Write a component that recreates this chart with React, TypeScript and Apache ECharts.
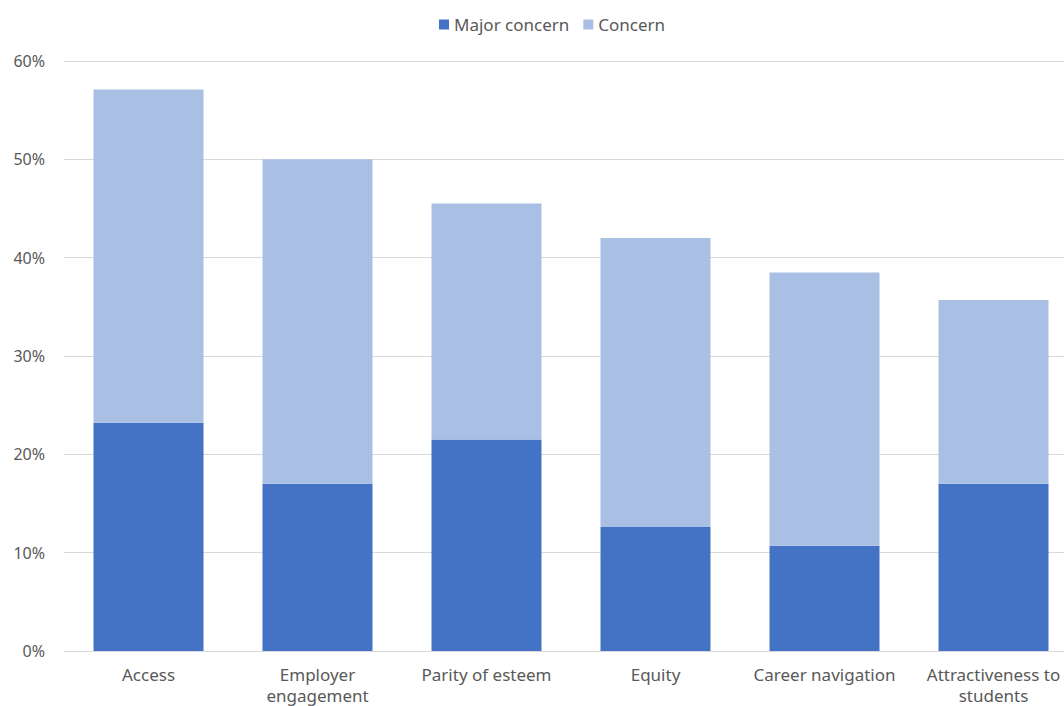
import React, { useEffect, useRef } from "react";
import * as echarts from "echarts";

const categories = [
  "Access",
  "Employer\nengagement",
  "Parity of esteem",
  "Equity",
  "Career navigation",
  "Attractiveness to\nstudents",
];
const majorConcern = [23.2, 17.0, 21.5, 12.6, 10.7, 17.0];
const concern = [33.9, 33.0, 24.0, 29.4, 27.8, 18.7];
const seriesNames = ["Major concern", "Concern"];
const colors = ["#4472C4", "#A9BFE4"];

export default function App() {
  const ref = useRef<HTMLDivElement>(null);
  useEffect(() => {
    if (!ref.current) return;
    const chart = echarts.init(ref.current, null, { renderer: "svg" });
    const font = "'Noto Sans', sans-serif";
    chart.setOption({
      animation: false,
      textStyle: { fontFamily: font },
      legend: {
        left: 434,
        top: 11,
        itemWidth: 10,
        itemHeight: 10,
        itemGap: 14,
        icon: "rect",
        textStyle: { fontSize: 17, color: "#595959", fontFamily: font },
        data: seriesNames,
      },
      grid: { left: 64, top: 61, width: 1014, height: 596, containLabel: false },
      xAxis: {
        type: "category",
        data: categories,
        axisLine: { lineStyle: { color: "#D9D9D9", width: 1 } },
        axisTick: { show: false },
        axisLabel: {
          color: "#595959",
          fontSize: 17,
          fontFamily: font,
          margin: 13,
          lineHeight: 21,
          interval: 0,
        },
      },
      yAxis: {
        type: "value",
        min: 0,
        max: 60,
        interval: 10,
        axisLine: { show: false },
        axisTick: { show: false },
        splitLine: { lineStyle: { color: "#D9D9D9", width: 1 } },
        axisLabel: {
          formatter: "{value}%",
          color: "#595959",
          fontSize: 16,
          fontFamily: font,
          margin: 19,
        },
      },
      series: [
        {
          name: seriesNames[0],
          type: "bar",
          stack: "total",
          data: majorConcern,
          barWidth: 110,
          itemStyle: { color: colors[0] },
        },
        {
          name: seriesNames[1],
          type: "bar",
          stack: "total",
          data: concern,
          barWidth: 110,
          itemStyle: { color: colors[1] },
        },
      ],
    });
    return () => chart.dispose();
  }, []);
  return (
    <div
      ref={ref}
      style={{ position: "fixed", left: 0, top: 0, width: 1090, height: 706, background: "#fff" }}
    />
  );
}
